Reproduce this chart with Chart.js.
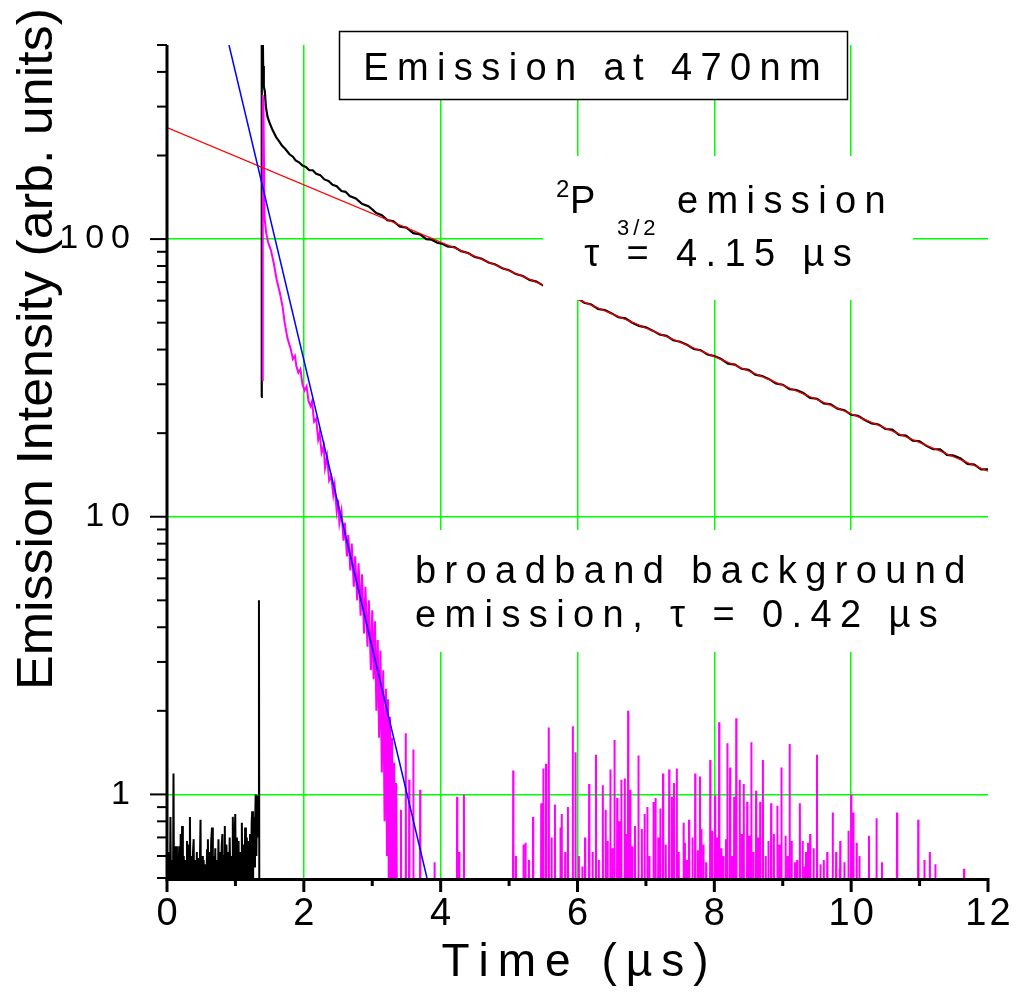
<!DOCTYPE html>
<html><head><meta charset="utf-8">
<script src="https://cdn.jsdelivr.net/npm/chart.js@4.4.0/dist/chart.umd.min.js"></script>
<style>html,body{margin:0;padding:0;background:#fff;}#wrap{width:1016px;height:995px;position:relative;}</style>
</head><body><div id="wrap"><canvas id="c"></canvas></div>
<script>
// ---------- DATA ----------
const xTickValues = [0,1,2,3,4,5,6,7,8,9,10,11,12];
const xLabelValues = [0,2,4,6,8,10,12];
const xTickLabels = ['0','2','4','6','8','10','12'];
const xGridValues = [2,4,6,8,10];
const yTickValues = [0.5,0.6,0.7,0.8,0.9,1,2,3,4,5,6,7,8,9,10,20,30,40,50,60,70,80,90,100,200,300,400,500];
const yLabelValues = [1,10,100];
const yTickLabels = ['1','10','100'];

// black trace, pre-trigger noise (time µs, intensity)
const blackPre = [[0.010,0.3],[0.025,0.62],[0.04,0.3],[0.05,0.83],[0.062,0.35],[0.075,0.58],[0.085,0.3],[0.095,1.19],[0.105,0.3],[0.115,0.65],[0.125,0.52],[0.135,0.65],[0.145,0.3],[0.155,0.6],[0.165,0.45],[0.178,0.65],[0.19,0.3],[0.20,0.72],[0.21,0.4],[0.22,0.77],[0.232,0.3],[0.245,0.6],[0.258,0.35],[0.27,0.58],[0.28,0.3],[0.292,0.68],[0.302,0.45],[0.315,0.66],[0.325,0.3],[0.335,0.83],[0.345,0.4],[0.357,0.6],[0.368,0.3],[0.38,0.62],[0.39,0.69],[0.40,0.3],[0.412,0.58],[0.424,0.35],[0.436,0.62],[0.447,0.3],[0.46,0.59],[0.47,0.4],[0.48,0.55],[0.49,0.81],[0.50,0.3],[0.512,0.6],[0.524,0.45],[0.536,0.58],[0.548,0.3],[0.56,0.56],[0.572,0.35],[0.585,0.63],[0.598,0.69],[0.61,0.3],[0.622,0.62],[0.634,0.4],[0.646,0.68],[0.658,0.76],[0.67,0.3],[0.682,0.6],[0.694,0.45],[0.706,0.64],[0.718,0.3],[0.73,0.58],[0.742,0.4],[0.752,0.69],[0.764,0.3],[0.776,0.62],[0.788,0.45],[0.80,0.66],[0.81,0.72],[0.822,0.3],[0.834,0.6],[0.845,0.77],[0.856,0.3],[0.868,0.66],[0.88,0.45],[0.892,0.62],[0.904,0.3],[0.916,0.7],[0.928,0.45],[0.94,0.6],[0.952,0.3],[0.962,0.83],[0.974,0.4],[0.986,0.68],[0.998,0.85],[1.01,0.3],[1.022,0.7],[1.034,0.45],[1.046,0.68],[1.058,0.3],[1.07,0.62],[1.082,0.5],[1.094,0.79],[1.106,0.35],[1.118,0.66],[1.13,0.45],[1.142,0.76],[1.154,0.3],[1.166,0.7],[1.178,0.5],[1.19,0.68],[1.202,0.3],[1.214,0.72],[1.226,0.5],[1.238,0.8],[1.246,0.87],[1.256,0.4],[1.266,0.83],[1.276,0.55],[1.286,0.75],[1.296,1.0],[1.306,0.6],[1.316,0.99],[1.326,0.7],[1.334,0.96],[1.344,5.0],[1.35,0.3]];
// black trace, 2P3/2 emission decay
const blackMain = [[1.376,27],[1.385,800],[1.395,700],[1.405,420],[1.415,355],[1.43,340],[1.445,300],[1.47,275],[1.50,262],[1.54,248],[1.595,233],[1.64,225],[1.68,217],[1.73,211],[1.79,202],[1.84,198],[1.88,192],[1.93,189],[1.98,184],[2.03,182],[2.08,177],[2.13,177],[2.18,172],[2.24,170],[2.30,164],[2.36,162],[2.42,157],[2.48,155],[2.55,149],[2.61,148],[2.67,143],[2.76,140],[2.85,134],[2.95,131],[3.06,124],[3.14,122],[3.22,117],[3.31,116],[3.40,111],[3.50,110],[3.60,105],[3.70,104],[3.79,100],[3.87,99.5],[3.95,97],[4.03,96],[4.10,94],
[4.2,93.6],[4.3,90.5],[4.4,89.1],[4.5,86.3],[4.6,85.0],[4.7,82.3],[4.8,81.0],[4.9,78.5],[5.0,77.2],[5.1,74.8],[5.2,73.6],[5.3,71.3],[5.4,70.3],[5.5,68.0],
[6.0,61.2],[6.1,59.0],[6.2,58.1],[6.3,56.0],[6.4,55.5],[6.5,54.0],[6.6,52.3],[6.7,51.8],[6.8,50.0],[6.9,48.7],[7.0,48.1],[7.1,46.8],[7.2,45.3],[7.3,44.8],[7.4,43.2],[7.5,42.7],[7.6,41.6],[7.7,40.2],[7.8,39.8],[7.9,38.4],[8.0,37.9],[8.1,37.0],[8.2,35.6],[8.3,35.3],[8.4,34.1],[8.5,33.8],[8.6,32.5],[8.7,32.1],[8.8,31.3],[8.9,30.2],[9.0,29.9],[9.1,28.8],[9.2,28.6],[9.3,27.9],[9.4,26.8],[9.5,26.6],[9.6,25.6],[9.7,25.4],[9.8,24.5],[9.9,24.2],[10.0,23.3],[10.1,23.1],[10.2,22.3],[10.3,21.7],[10.4,21.5],[10.5,20.7],[10.6,20.6],[10.7,19.7],[10.8,19.6],[10.9,18.8],[11.0,18.7],[11.1,18.0],[11.2,17.5],[11.3,17.5],[11.4,16.7],[11.5,16.6],[11.6,16.2],[11.7,15.5],[11.8,15.4],[11.9,14.8],[12.0,14.8]];
// magenta trace: broadband background decay
const magDecay = [[1.395,31],[1.40,330],[1.41,300],[1.425,120],[1.45,105],[1.48,97],[1.52,91],[1.56,82],[1.60,72],[1.65,64],[1.69,57],[1.72,50],[1.76,44],[1.81,40],[1.84,37],[1.87,38],[1.89,35],[1.92,33],[1.95,34],[1.98,30],[2.01,28.5],[2.04,29.5],[2.07,26],[2.10,25],[2.12,26],[2.15,22],[2.18,22.5],[2.21,19],[2.23,20],[2.26,17],[2.29,18],[2.31,15],[2.34,16.5],[2.37,13.5],[2.40,14],[2.43,12],[2.45,13],[2.48,10.5],[2.50,11.5],[2.52,9.5],[2.55,10.5],[2.58,8.2],[2.60,9.5],[2.63,7.2],[2.65,8.6],[2.68,6.4],[2.70,8],[2.73,5.6],[2.75,7.2],[2.78,5],[2.80,6.8],[2.83,4.4],[2.85,6.2],[2.88,3.8],[2.90,5.6],[2.93,3.4],[2.95,5],[2.98,2.8],[3.00,4.6],[3.02,2.6],[3.04,4.2],[3.06,2.0],[3.08,3.6],[3.10,1.6],[3.12,3.3],[3.14,1.2],[3.16,2.8],[3.18,0.8],[3.20,2.4],[3.215,0.6],[3.23,2.2],[3.245,0.3],[3.26,1.9],[3.275,0.5],[3.29,1.6],[3.305,0.3],[3.32,1.3],[3.335,0.3],[3.35,1.1],[3.365,0.3]];
// magenta trace: taller noise spikes after the decay
const magSpikeT = [3.42,3.49,3.54,3.60,3.70,3.91,4.24,4.27,4.34,5.06,5.21,5.24,5.35,5.47,5.50,5.54,5.58,5.67,5.75,5.77,5.86,5.93,5.97,6.07,6.17,6.27,6.37,6.41,6.44,6.48,6.54,6.58,6.64,6.69,6.74,6.77,6.84,6.89,6.94,6.98,7.02,7.11,7.14,7.21,7.25,7.34,7.38,7.41,7.45,7.55,7.57,7.63,7.72,7.79,7.81,7.84,7.94,7.97,8.01,8.07,8.13,8.17,8.19,8.23,8.29,8.32,8.37,8.43,8.48,8.51,8.54,8.61,8.67,8.71,8.83,8.92,8.98,9.04,9.10,9.13,9.18,9.25,9.29,9.32,9.37,9.40,9.45,9.50,9.65,9.73,9.83,9.84,9.96,10.0,10.03,10.08,10.26,10.37,10.67,10.98,11.07,11.15,11.23,11.65];
const magSpikeV = [0.88,1.66,1.13,1.45,1.04,0.57,0.98,0.62,1.0,1.22,0.66,0.67,0.83,0.93,1.24,1.29,1.74,0.92,0.76,0.85,0.90,1.76,1.42,0.55,1.09,1.39,1.08,0.88,0.68,1.23,1.57,0.97,1.13,1.14,2.0,1.04,0.77,1.38,0.75,0.85,0.90,0.94,0.97,0.89,1.19,1.23,0.98,1.10,1.24,0.79,0.67,0.81,1.19,1.16,0.75,0.66,1.33,0.74,0.99,1.82,0.60,0.69,1.53,1.25,0.98,1.88,1.13,1.09,0.94,0.71,1.54,1.03,0.94,1.33,0.93,0.91,1.25,0.71,1.52,0.68,0.57,0.93,0.68,0.55,0.67,0.72,0.64,1.39,0.62,0.86,0.54,0.68,0.74,1.0,0.86,0.67,0.71,0.82,0.86,0.81,0.58,0.62,0.56,0.54];
// magenta trace: small noise spikes
const magSmallT = [5.10,5.29,5.62,5.82,6.02,6.11,6.22,6.31,6.51,6.61,6.71,6.80,7.05,7.18,7.29,7.48,7.60,7.68,7.76,7.88,8.04,8.10,8.26,8.40,8.57,8.64,8.75,8.79,8.87,8.95,9.07,9.21,9.34,9.55,9.60,9.78,9.90,10.12,10.45];
const magSmallV = [0.60,0.58,0.70,0.62,0.60,0.70,0.62,0.58,0.64,0.80,0.72,0.65,0.60,0.70,0.66,0.62,0.58,0.70,0.63,0.57,0.70,0.64,0.60,0.72,0.62,0.70,0.60,0.68,0.72,0.66,0.60,0.58,0.62,0.56,0.58,0.62,0.57,0.60,0.57];
const magBaseline = 0.3;   // "zero" level, below the visible axis
// exponential fits (straight lines on the log axis), end points
const redFit = [[0,252],[12,14.6]];    // tau = 4.15 µs
const blueFit = [[0.906,500],[3.80,0.5]]; // tau = 0.42 µs

// ---------- build datasets ----------
const toXY = arr => arr.map(p => ({x:p[0], y:p[1]}));
const blackPreData = toXY(blackPre);
const blackMainData = toXY(blackMain);
const spikes = magSpikeT.map((t,i) => [t, magSpikeV[i]])
  .concat(magSmallT.map((t,i) => [t, magSmallV[i]]))
  .sort((a,b) => a[0]-b[0]);
const magData = toXY(magDecay);
spikes.forEach(s => {
  magData.push({x:s[0]-0.004,y:magBaseline},{x:s[0],y:s[1]},{x:s[0]+0.004,y:magBaseline});
});

const FONT = '"Liberation Sans", Arial, Helvetica, sans-serif';
function drawSpaced(ctx, text, x, y, sp, align) {
  const chars = Array.from(text);
  const widths = chars.map(c => ctx.measureText(c).width);
  const total = widths.reduce((a,b)=>a+b,0) + sp*(chars.length-1);
  let cx = align==='center' ? x - total/2 : (align==='right' ? x - total : x);
  ctx.textAlign = 'left';
  chars.forEach((c,i) => { ctx.fillText(c, cx, y); cx += widths[i] + sp; });
  return cx;
}

const overlay = {
  id: 'overlay',
  afterDraw(chart) {
    const ctx = chart.ctx, xs = chart.scales.x, ys = chart.scales.y;
    const L = xs.left, R = xs.right, T = ys.top, B = ys.bottom;
    ctx.save();
    // white text boxes
    ctx.fillStyle = '#fff';
    ctx.fillRect(543, 156, 370, 144);
    ctx.fillRect(403, 530, 575, 122);
    ctx.fillRect(339, 31, 508, 69);
    ctx.strokeStyle = '#000'; ctx.lineWidth = 1.5;
    ctx.strokeRect(339.5, 31.5, 508, 68);
    // axes
    ctx.strokeStyle = '#000'; ctx.lineWidth = 3;
    ctx.beginPath(); ctx.moveTo(L, T); ctx.lineTo(L, B+1.5); ctx.lineTo(R, B+1.5); ctx.stroke();
    // x ticks
    xTickValues.forEach(v => {
      const px = xs.getPixelForValue(v);
      const major = xLabelValues.includes(v);
      ctx.lineWidth = 3;
      ctx.beginPath(); ctx.moveTo(px, B); ctx.lineTo(px, B + (major ? 14 : 8)); ctx.stroke();
    });
    // y ticks
    yTickValues.forEach(v => {
      const py = ys.getPixelForValue(v);
      const major = yLabelValues.includes(v);
      ctx.lineWidth = 2;
      ctx.beginPath(); ctx.moveTo(L, py); ctx.lineTo(L - (major ? 17 : 10), py); ctx.stroke();
    });
    ctx.fillStyle = '#000';
    ctx.textBaseline = 'alphabetic';
    // x tick labels
    ctx.font = '38px ' + FONT;
    xLabelValues.forEach((v,i) => {
      drawSpaced(ctx, xTickLabels[i], xs.getPixelForValue(v), 925, 3, 'center');
    });
    // y tick labels
    ctx.font = '34px ' + FONT;
    ctx.textBaseline = 'middle';
    yLabelValues.forEach((v,i) => {
      drawSpaced(ctx, yTickLabels[i], 130, ys.getPixelForValue(v), 7, 'right');
    });
    ctx.textBaseline = 'alphabetic';
    // x title
    ctx.font = '46px ' + FONT;
    drawSpaced(ctx, 'Time (\u00b5s)', 575, 976, 9, 'center');
    // y title
    ctx.save();
    ctx.translate(52, 349);
    ctx.rotate(-Math.PI/2);
    ctx.font = '50px ' + FONT;
    const yt = 'Emission Intensity (arb. units)';
    const w = ctx.measureText(yt).width;
    ctx.scale(682 / w, 1);
    ctx.textAlign = 'center';
    ctx.fillText(yt, 0, 0);
    ctx.restore();
    // box title
    ctx.font = '38px ' + FONT;
    drawSpaced(ctx, 'Emission at 470nm', 592, 80, 8.4, 'center');
    // 2P3/2 label
    ctx.font = '24px ' + FONT; ctx.fillText('2', 556, 197);
    ctx.font = '38px ' + FONT; ctx.fillText('P', 570, 213);
    ctx.font = '22px ' + FONT; drawSpaced(ctx, '3/2', 617, 235, 4, 'left');
    ctx.font = '38px ' + FONT; drawSpaced(ctx, 'emission', 677, 213, 8.4, 'left');
    drawSpaced(ctx, '\u03c4 = 4.15 \u00b5s', 718, 266, 8.4, 'center');
    // broadband label
    drawSpaced(ctx, 'broadband background', 415, 583, 8.4, 'left');
    drawSpaced(ctx, 'emission, \u03c4 = 0.42 \u00b5s', 415, 627, 8.4, 'left');
    ctx.restore();
  }
};

new Chart(document.getElementById('c'), {
  type: 'line',
  data: { datasets: [
    { label: 'fit 0.42', data: toXY(blueFit), borderColor: '#0000ff', borderWidth: 1.5, order: 1, clip: 0 },
    { label: 'fit 4.15', data: toXY(redFit), borderColor: '#ff0000', borderWidth: 1.2, order: 2, clip: 0 },
    { label: 'broadband', data: magData, borderColor: '#ff00ff', borderWidth: 2, order: 3, clip: 0 },
    { label: '470nm', data: blackMainData, borderColor: '#000000', borderWidth: 2.2, order: 4, clip: 0 },
    { label: '470nm pre-trigger', data: blackPreData, borderColor: '#000000', borderWidth: 2, order: 5, clip: 0 }
  ]},
  options: {
    responsive: true, maintainAspectRatio: false, animation: false,
    layout: { padding: { left: 167, top: 45, right: 28, bottom: 117 } },
    plugins: { legend: { display: false }, tooltip: { enabled: false } },
    elements: { point: { radius: 0 }, line: { tension: 0 } },
    scales: {
      x: { type: 'linear', min: 0, max: 12,
        afterBuildTicks: s => { s.ticks = xTickValues.map(v => ({value: v})); },
        ticks: { display: false }, border: { display: false },
        grid: { drawTicks: false, lineWidth: 1.5, color: c => (c.tick && xGridValues.includes(c.tick.value)) ? '#00ff00' : 'rgba(0,0,0,0)' } },
      y: { type: 'logarithmic', min: 0.5, max: 500,
        afterBuildTicks: s => { s.ticks = yTickValues.map(v => ({value: v})); },
        ticks: { display: false }, border: { display: false },
        grid: { drawTicks: false, lineWidth: 1.5, color: c => (c.tick && yLabelValues.includes(c.tick.value)) ? '#00ff00' : 'rgba(0,0,0,0)' } }
    }
  },
  plugins: [overlay]
});
</script>
</body></html>
